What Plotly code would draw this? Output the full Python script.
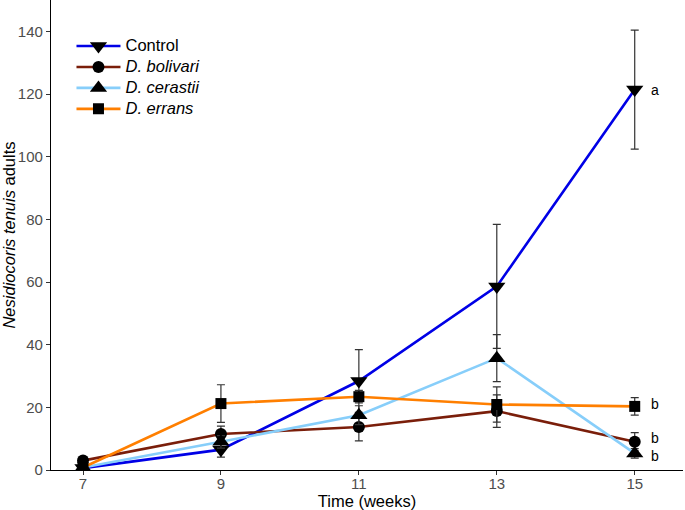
import plotly.graph_objects as go

weeks = [7, 9, 11, 13, 15]
x_ticks = [7, 9, 11, 13, 15]
y_ticks = [0, 20, 40, 60, 80, 100, 120, 140]

series_names = ["Control", "<i>D. bolivari</i>", "<i>D. cerastii</i>", "<i>D. errans</i>"]
control = [0.6, 6.5, 28.4, 58.6, 121.4]
control_se = [0.5, 2.4, 10.0, 19.8, 19.0]
bolivari = [3.0, 11.5, 13.7, 18.8, 9.0]
bolivari_se = [0.8, 2.5, 4.4, 5.2, 2.9]
cerastii = [0.8, 9.0, 17.5, 35.7, 5.3]
cerastii_se = [0.5, 2.0, 3.0, 7.5, 1.5]
errans = [0.8, 21.2, 23.4, 20.9, 20.3]
errans_se = [0.5, 6.0, 2.0, 5.6, 2.8]

letters = ["a", "b", "b", "b"]

colors = ["#0000E6", "#7A1E0A", "#87CEFA", "#FF7F00"]
symbols = ["triangle-down", "circle", "triangle-up", "square"]
sizes = [15, 12, 15, 11]
letter_yshift = [0, 4, -3, 2]

values = [control, bolivari, cerastii, errans]
errors = [control_se, bolivari_se, cerastii_se, errans_se]

FONT = "Liberation Sans, Arial, Helvetica, sans-serif"

fig = go.Figure()
for name, v, e, c, s, sz in zip(series_names, values, errors, colors, symbols, sizes):
    fig.add_trace(go.Scatter(
        x=weeks, y=v, name='<span style="font-size:16.5px">' + name + '</span>',
        mode="lines+markers",
        line=dict(color=c, width=2.6),
        marker=dict(symbol=s, size=sz, color="black"),
        error_y=dict(type="data", array=e, visible=True, color="#333333",
                     thickness=1.2, width=4),
    ))

for v, lab, ys in zip(values, letters, letter_yshift):
    fig.add_annotation(x=weeks[-1], y=v[-1], text=lab, showarrow=False,
                       xref="x", yref="y", xshift=20, yshift=ys, xanchor="center",
                       font=dict(family=FONT, size=14, color="black"))

fig.update_layout(
    width=685, height=510,
    margin=dict(l=51, r=2, t=0, b=40),
    paper_bgcolor="white", plot_bgcolor="white",
    font=dict(family=FONT),
    showlegend=True,
    legend=dict(x=0.0324, y=0.935, xanchor="left", yanchor="top",
                font=dict(family=FONT, size=13.8, color="black"),
                itemwidth=44,
                bgcolor="rgba(0,0,0,0)", tracegroupgap=0),
    xaxis=dict(range=[6.536, 15.70], tickvals=x_ticks, ticktext=[str(t) for t in x_ticks],
               showgrid=False, zeroline=False, showline=True, linecolor="black", linewidth=1.2,
               ticks="outside", ticklen=4, tickcolor="#333333", tickwidth=1.1,
               ticklabelstandoff=-4,
               tickfont=dict(family=FONT, size=15, color="#4D4D4D"),
               title=dict(text="Time (weeks)", font=dict(family=FONT, size=16.5, color="black"), standoff=2)),
    yaxis=dict(range=[0, 150], tickvals=y_ticks, ticktext=[str(t) for t in y_ticks],
               showgrid=False, zeroline=False, showline=True, linecolor="black", linewidth=1.2,
               ticks="outside", ticklen=4, tickcolor="#333333", tickwidth=1.1,
               tickfont=dict(family=FONT, size=15, color="#4D4D4D"),
               title=dict(text="<i>Nesidiocoris tenuis</i> adults",
                          font=dict(family=FONT, size=16.5, color="black"), standoff=3)),
)

fig.write_html("out.html", config={"displayModeBar": False},
               post_script="document.body.style.margin='0';document.body.style.overflow='hidden';")
